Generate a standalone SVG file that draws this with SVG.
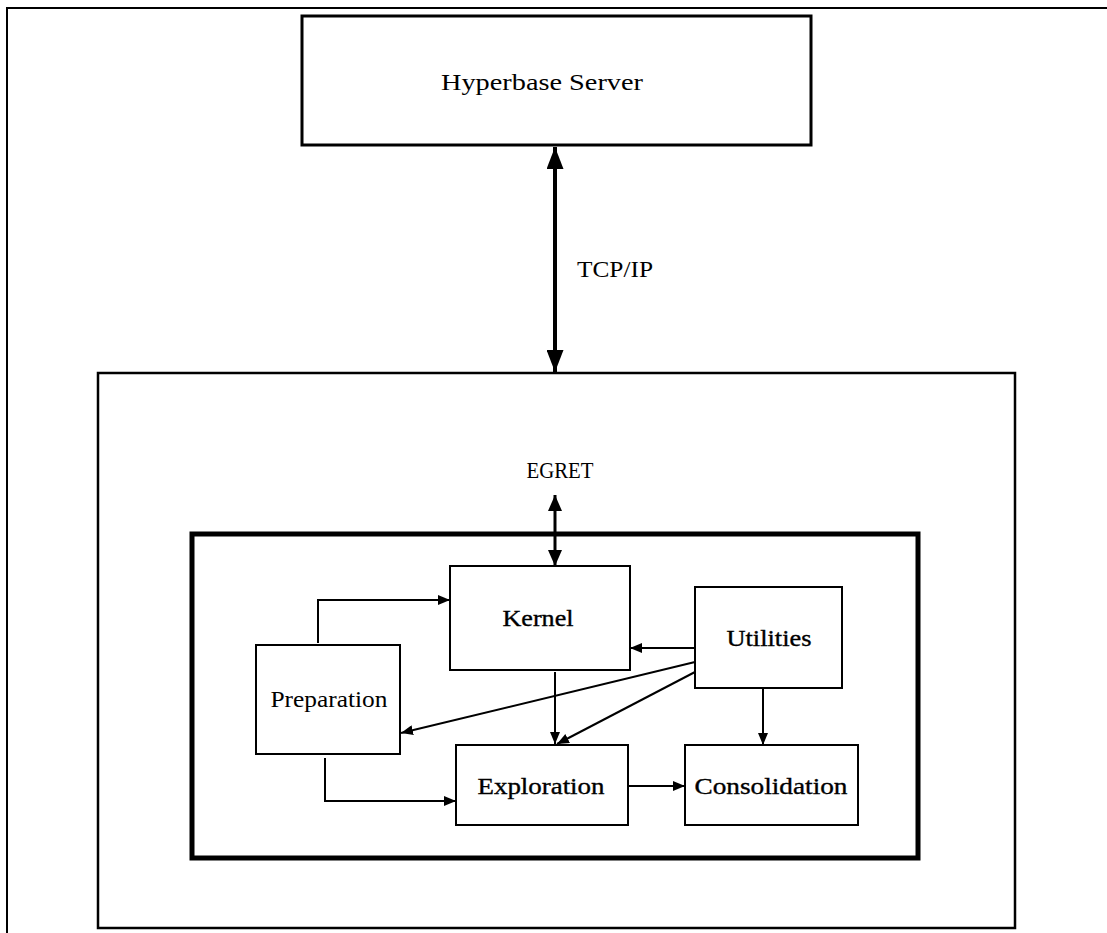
<svg xmlns="http://www.w3.org/2000/svg" width="1107" height="933" viewBox="0 0 1107 933">
<style>
.box{fill:#fff;stroke:#000;stroke-width:2}
.lbl{font-family:"Liberation Serif","DejaVu Serif",serif;font-size:23px;fill:#000}
.b{stroke:#000;stroke-width:0.35}
.c{fill:none;stroke:#000;stroke-width:2}
</style>
<defs>
<marker id="a" viewBox="0 0 12 10" refX="12" refY="5" markerWidth="12" markerHeight="10" markerUnits="userSpaceOnUse" orient="auto-start-reverse"><path d="M0,0 L12,5 L0,10 Z" fill="#000"/></marker>
<marker id="big" viewBox="0 0 22 17" refX="22" refY="8.5" markerWidth="22" markerHeight="17" markerUnits="userSpaceOnUse" orient="auto-start-reverse"><path d="M0,0 L22,8.5 L0,17 Z" fill="#000"/></marker>
<marker id="mid" viewBox="0 0 16 14" refX="16" refY="7" markerWidth="16" markerHeight="14" markerUnits="userSpaceOnUse" orient="auto-start-reverse"><path d="M0,0 L16,7 L0,14 Z" fill="#000"/></marker>
</defs>
<rect width="1107" height="933" fill="#fff"/>
<g id="frame"><path d="M7,933 V8 H1107" fill="none" stroke="#000" stroke-width="2"/></g>
<g id="hyperbase"><rect x="302" y="16" width="509" height="129" fill="#fff" stroke="#000" stroke-width="3"/><text class="lbl" x="542" y="90" text-anchor="middle" textLength="202" lengthAdjust="spacingAndGlyphs">Hyperbase Server</text></g>
<g id="egret"><rect x="98" y="373" width="917" height="555" fill="#fff" stroke="#000" stroke-width="2.5"/><text class="lbl" x="560" y="478" text-anchor="middle" textLength="67" lengthAdjust="spacingAndGlyphs">EGRET</text></g>
<g id="inner"><rect x="192" y="534" width="726" height="324" fill="none" stroke="#000" stroke-width="5"/></g>
<g id="kernel"><rect class="box" x="450" y="566" width="180" height="104"/><text class="lbl b" x="538" y="626" text-anchor="middle" textLength="71" lengthAdjust="spacingAndGlyphs">Kernel</text></g>
<g id="utilities"><rect class="box" x="695" y="587" width="147" height="101"/><text class="lbl b" x="769" y="646" text-anchor="middle" textLength="85" lengthAdjust="spacingAndGlyphs">Utilities</text></g>
<g id="preparation"><rect class="box" x="256" y="645" width="144" height="109"/><text class="lbl" x="329" y="707" text-anchor="middle" textLength="117" lengthAdjust="spacingAndGlyphs">Preparation</text></g>
<g id="exploration"><rect class="box" x="456" y="745" width="172" height="80"/><text class="lbl b" x="541" y="794" text-anchor="middle" textLength="127" lengthAdjust="spacingAndGlyphs">Exploration</text></g>
<g id="consolidation"><rect class="box" x="685" y="745" width="173" height="80"/><text class="lbl b" x="771" y="794" text-anchor="middle" textLength="153" lengthAdjust="spacingAndGlyphs">Consolidation</text></g>
<g id="connectors">
<line x1="555" y1="147" x2="555" y2="372" stroke="#000" stroke-width="4" marker-start="url(#big)" marker-end="url(#big)"/>
<text class="lbl" x="577" y="277" textLength="76" lengthAdjust="spacingAndGlyphs">TCP/IP</text>
<line x1="555" y1="495" x2="555" y2="566" stroke="#000" stroke-width="3" marker-start="url(#mid)" marker-end="url(#mid)"/>
<path class="c" d="M318,643 V600 H450" marker-end="url(#a)"/>
<line class="c" x1="695" y1="648" x2="630" y2="648" marker-end="url(#a)"/>
<line class="c" x1="695" y1="662" x2="401" y2="733" marker-end="url(#a)"/>
<line class="c" x1="695" y1="672" x2="557" y2="744" marker-end="url(#a)"/>
<line class="c" x1="555" y1="672" x2="555" y2="744" marker-end="url(#a)"/>
<path class="c" d="M325,758 V801 H456" marker-end="url(#a)"/>
<line class="c" x1="628" y1="786" x2="685" y2="786" marker-end="url(#a)"/>
<line class="c" x1="763" y1="688" x2="763" y2="745" marker-end="url(#a)"/>
</g>
</svg>
